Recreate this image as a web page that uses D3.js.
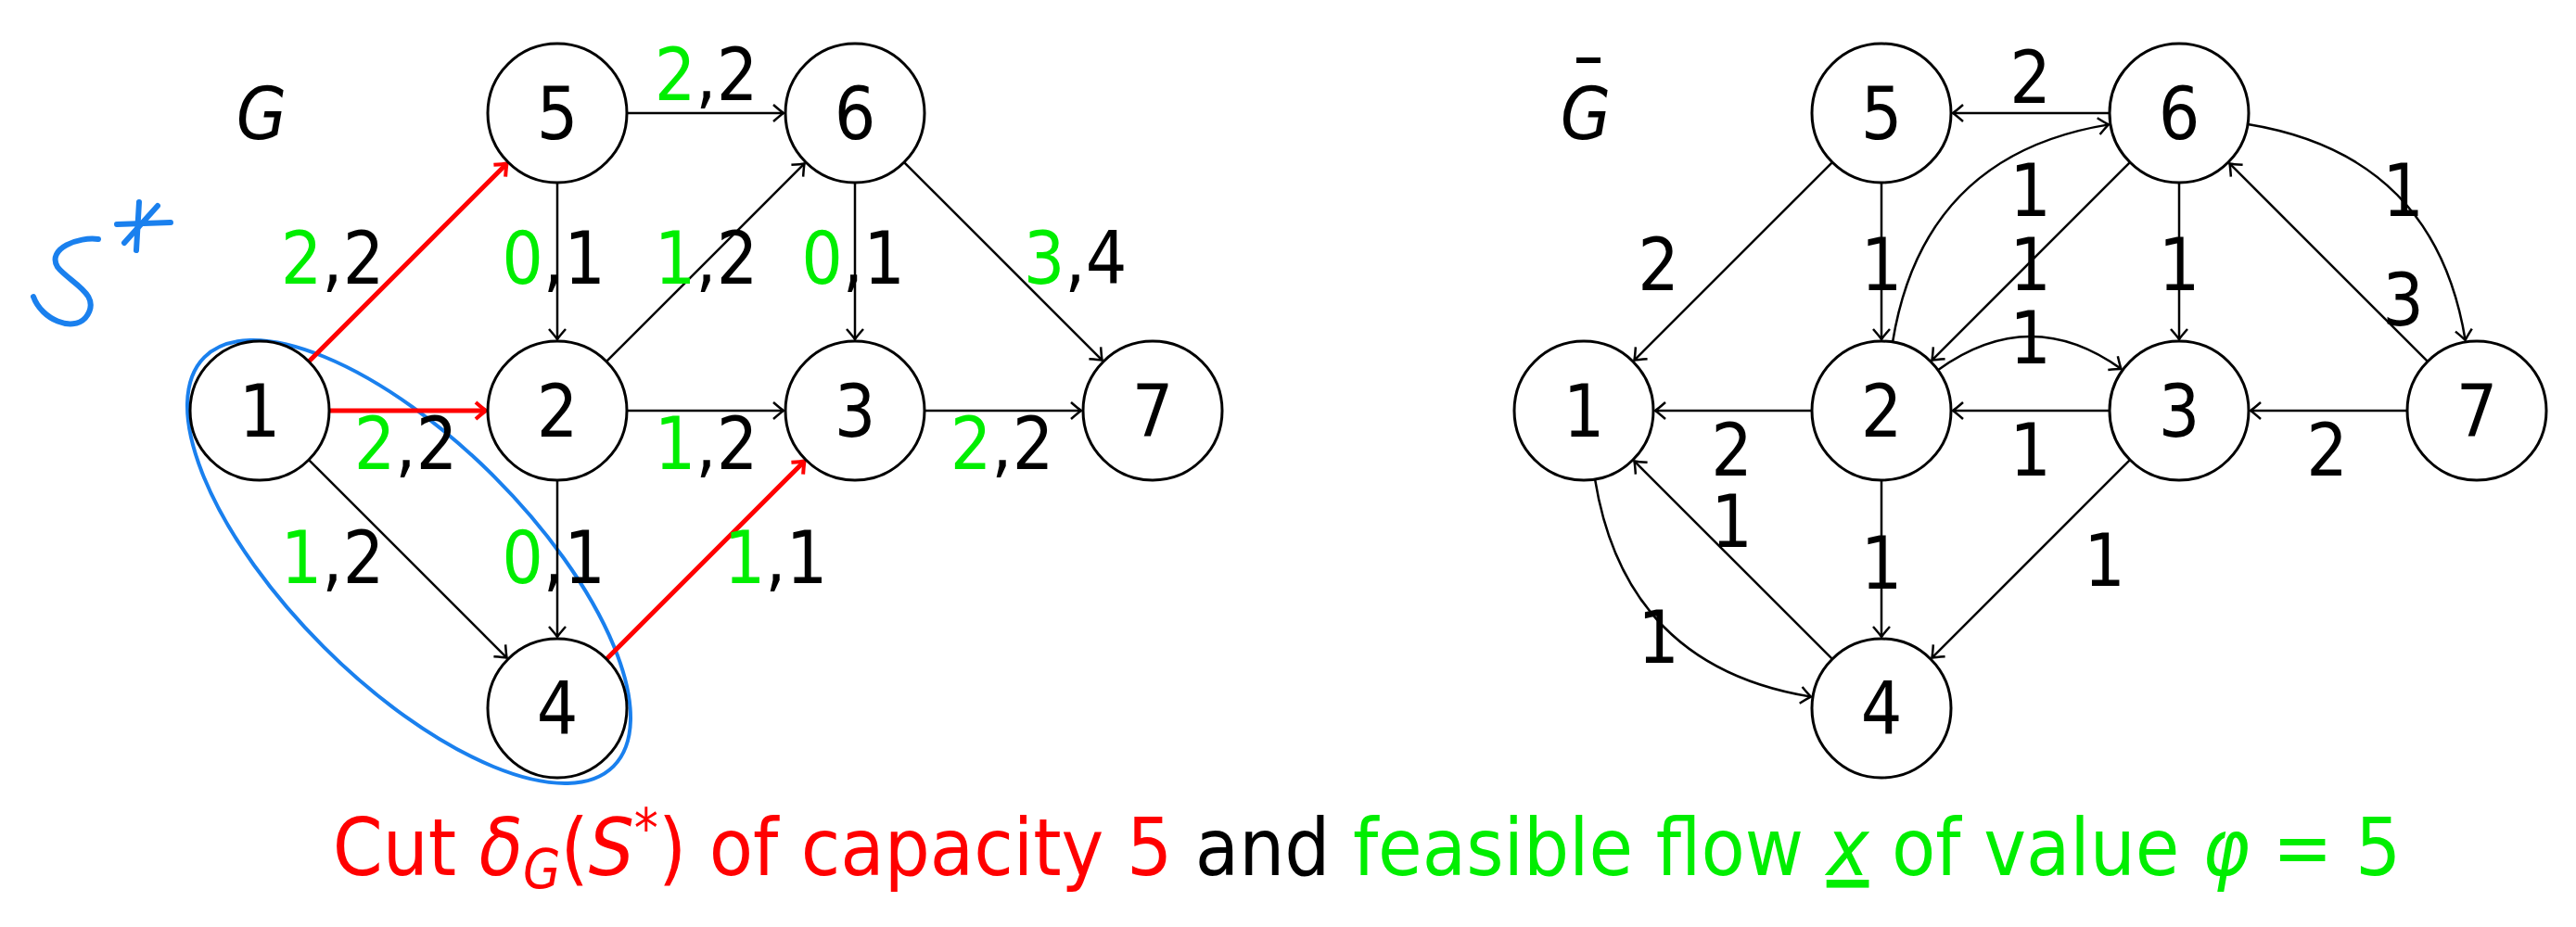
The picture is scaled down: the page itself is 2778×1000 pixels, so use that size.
<!DOCTYPE html>
<html><head><meta charset="utf-8">
<script src="https://cdn.jsdelivr.net/npm/d3@7"></script>
<style>body{margin:0;background:#fff}</style>
</head><body>
<script>
// nodes on a grid: [id, col, row]
const nodes = [[1,0,1],[2,1,1],[3,2,1],[4,1,2],[5,1,0],[6,2,0],[7,3,1]];
// G edges: [from, to, flow, capacity, inCut]
const flowEdges = [[1,5,2,2,true],[5,6,2,2,false],[5,2,0,1,false],[2,6,1,2,false],[6,3,0,1,false],[6,7,3,4,false],
  [1,2,2,2,true],[2,3,1,2,false],[3,7,2,2,false],[1,4,1,2,false],[2,4,0,1,false],[4,3,1,1,true]];
const flowLabelOffset = [[-82,-5],[0,-42],[-4,-5],[0,-5],[-2,-5],[77,-5],[-3,35],[0,35],[-2,35],[-82,-3],[-4,-3],[75,-3]];
// residual edges: [from, to, residual capacity, bend]
const resEdges = [[6,5,2,0],[5,1,2,0],[5,2,1,0],[2,6,1,1],[6,2,1,0],[6,3,1,0],[6,7,1,1],[7,6,3,0],
  [2,3,1,1],[2,1,2,0],[3,2,1,0],[7,3,2,0],[4,1,1,0],[2,4,1,0],[3,4,1,0],[1,4,1,-1]];
const resLabelOffset = [[0,-39],[-80,2],[0,2],[0,-78],[0,2],[0,2],[81,-78],[81,40],[0,-79],[-1,42],[0,42],[-1,42],[-1,-42],[0,3],[80,0],[-80,83]];

const W = 2778, H = 1000, R = 75;
const FONT = "'DejaVu Sans Condensed','DejaVu Sans',sans-serif";
const GREEN = "#00ee00", RED = "#ff0000", BLUE = "#1a80ee";
const col = d3.scaleLinear().domain([0, 3]).range([280, 1243]);
const row = d3.scaleLinear().domain([0, 2]).range([122, 764]);

const svg = d3.select("body").append("svg").attr("width", W).attr("height", H);
const defs = svg.append("defs");
[["blk","#000",2.5],["red",RED,4]].forEach(([id,c,w]) => {
  defs.append("marker").attr("id","arr-"+id).attr("markerUnits","userSpaceOnUse")
    .attr("viewBox","-14 -12 16 24").attr("markerWidth",16).attr("markerHeight",24)
    .attr("refX",0).attr("refY",0).attr("orient","auto")
    .append("path").attr("d","M-11,-9 Q-3,-2 0,0 Q-3,2 -11,9")
    .attr("fill","none").attr("stroke",c).attr("stroke-width",w);
});

function drawGraph(dx, edges, offsets, labelFn, title) {
  const g = svg.append("g");
  const pos = {};
  nodes.forEach(([id,c,r]) => pos[id] = [col(c)+dx, row(r)]);
  edges.forEach((e, i) => {
    const a = pos[e[0]], b = pos[e[1]];
    const bend = e.length === 4 ? e[3] : 0;
    const cut = e.length === 5 && e[4];
    const mx = (a[0]+b[0])/2, my = (a[1]+b[1])/2;
    const ddx = b[0]-a[0], ddy = b[1]-a[1], L = Math.hypot(ddx, ddy);
    const cx = mx + bend*0.36*L*(ddy/L), cy = my + bend*0.36*L*(-ddx/L);
    const ua = [cx-a[0], cy-a[1]], la = Math.hypot(...ua);
    const ub = [cx-b[0], cy-b[1]], lb = Math.hypot(...ub);
    const p0 = [a[0]+ua[0]/la*R, a[1]+ua[1]/la*R];
    const p1 = [b[0]+ub[0]/lb*(R+2), b[1]+ub[1]/lb*(R+2)];
    const p = d3.path();
    p.moveTo(...p0);
    if (bend) p.quadraticCurveTo(cx, cy, ...p1); else p.lineTo(...p1);
    g.append("path").attr("d", p.toString()).attr("fill","none")
      .attr("stroke", cut ? RED : "#000").attr("stroke-width", cut ? 5 : 2.5)
      .attr("marker-end", cut ? "url(#arr-red)" : "url(#arr-blk)");
    const t = g.append("text").attr("x", mx+offsets[i][0]).attr("y", my+offsets[i][1]+28)
      .attr("text-anchor","middle").attr("font-family",FONT).attr("font-size",78);
    labelFn(t, e);
  });
  nodes.forEach(([id]) => {
    g.append("circle").attr("cx",pos[id][0]).attr("cy",pos[id][1]).attr("r",R)
      .attr("fill","#fff").attr("stroke","#000").attr("stroke-width",3);
    g.append("text").attr("x",pos[id][0]).attr("y",pos[id][1]+28).attr("text-anchor","middle")
      .attr("font-family",FONT).attr("font-size",78).text(id);
  });
  const tt = g.append("text").attr("x", col(0)+dx+2).attr("y", 150).attr("text-anchor","middle")
    .attr("font-family",FONT).attr("font-size",78).attr("font-style","italic").text("G");
  if (title) g.append("line").attr("x1",col(0)+dx-8).attr("x2",col(0)+dx+18)
    .attr("y1",65).attr("y2",65).attr("stroke","#000").attr("stroke-width",6);
}

// blue set S*
svg.append("ellipse").attr("cx",441).attr("cy",606).attr("rx",312).attr("ry",130)
  .attr("transform","rotate(45,441,606)").attr("fill","none").attr("stroke",BLUE).attr("stroke-width",4);

drawGraph(0, flowEdges, flowLabelOffset, (t, e) => {
  t.append("tspan").attr("fill",GREEN).text(e[2]);
  t.append("tspan").attr("fill","#000").text("," + e[3]);
}, false);
drawGraph(1428, resEdges, resLabelOffset, (t, e) => t.text(e[2]), true);

// hand-drawn S*
const sp = d3.path();
sp.moveTo(106,258); sp.bezierCurveTo(85,255,50,268,62,288);
sp.bezierCurveTo(75,305,112,318,92,343); sp.bezierCurveTo(78,358,45,345,36,320);
svg.append("path").attr("d",sp.toString()).attr("fill","none").attr("stroke",BLUE)
  .attr("stroke-width",6).attr("stroke-linecap","round");
[[150,218,147,270],[126,242,184,240],[134,262,170,222]].forEach(([x1,y1,x2,y2]) =>
  svg.append("line").attr("x1",x1).attr("y1",y1).attr("x2",x2).attr("y2",y2)
    .attr("stroke",BLUE).attr("stroke-width",6).attr("stroke-linecap","round"));

// caption
const cap = svg.append("text").attr("x",1474).attr("y",944).attr("text-anchor","middle")
  .attr("font-family",FONT).attr("font-size",86);
cap.append("tspan").attr("fill",RED).text("Cut ");
cap.append("tspan").attr("fill",RED).attr("font-style","italic").text("δ");
cap.append("tspan").attr("fill",RED).attr("font-style","italic").attr("font-size",58).attr("dy",14).text("G");
cap.append("tspan").attr("fill",RED).attr("dy",-14).text("(");
cap.append("tspan").attr("fill",RED).attr("font-style","italic").text("S");
cap.append("tspan").attr("fill",RED).attr("font-size",58).attr("dy",-30).text("*");
cap.append("tspan").attr("fill",RED).attr("dy",30).text(") of capacity 5 ");
cap.append("tspan").attr("fill","#000").text("and ");
cap.append("tspan").attr("fill",GREEN).text("feasible flow ");
cap.append("tspan").attr("fill",GREEN).attr("font-style","italic").attr("text-decoration","underline").text("x");
cap.append("tspan").attr("fill",GREEN).text(" of value ");
cap.append("tspan").attr("fill",GREEN).attr("font-style","italic").text("φ");
cap.append("tspan").attr("fill",GREEN).text(" = 5");
</script>
</body></html>
